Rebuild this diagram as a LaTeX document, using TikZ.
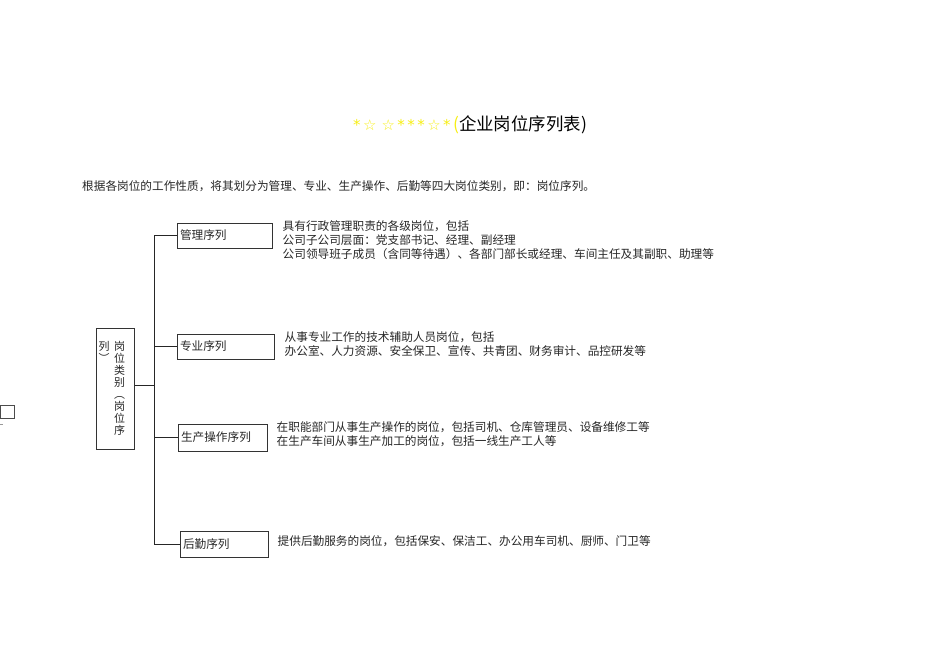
\documentclass[tikz,border=0pt]{standalone}
\usepackage{fontspec}
\setmainfont{Noto Sans CJK SC}
\newfontfamily\dejavu{DejaVu Sans}
\usetikzlibrary{positioning}
\definecolor{staryellow}{RGB}{246,238,20}
\newcommand{\sg}{\hspace{2.5pt}}
\tikzstyle{catbox} = [rectangle, draw=black!80, line width=1bp, minimum height=25bp, inner sep=3bp, align=left, font=\fontsize{11.7}{14}\selectfont, text=black!85]
\tikzstyle{rootbox} = [rectangle, draw=black!80, line width=1bp, minimum width=38bp, minimum height=121bp, inner sep=0pt]
\tikzstyle{desc} = [inner sep=0pt, align=left, font=\fontsize{11.7}{14}\selectfont, text=black!85]
\tikzstyle{branch} = [line width=1bp, draw=black!85]

\begin{document}
\begin{tikzpicture}[x=1bp, y=-1bp, node distance=10bp]
		\useasboundingbox (0,0) rectangle (950,672);

		\node (title) [anchor=west, inner sep=0pt, font=\fontsize{17.5}{20}\selectfont] at (353,125) {\textcolor{staryellow}{{\dejavu\fontsize{15}{17}\selectfont *\sg☆\sg\sg☆\sg*\sg*\sg*\sg☆\sg*\sg}(}企业岗位序列表)};
		\node (intro) [desc, anchor=west] at (82,186) {根据各岗位的工作性质，将其划分为管理、专业、生产操作、后勤等四大岗位类别，即：岗位序列。};

		\node (root) [rootbox, anchor=north west] at (95.5,327.5) {};
		\node (root_col_r) [inner sep=0pt, align=center, anchor=north, font=\fontsize{11}{12}\selectfont, text=black!85] at (119.5,341) {岗\\位\\类\\别\\︵\\岗\\位\\序};
		\node (root_col_l) [inner sep=0pt, align=center, anchor=north, font=\fontsize{11}{12}\selectfont, text=black!85] at (104,341) {列\\︶};

		\node (guanli) [catbox, text width=89bp, anchor=north west] at (176.5,222.5) {管理序列};
		\node (zhuanye) [catbox, text width=91bp, anchor=north west] at (176.5,333.5) {专业序列};
		\node (shengchan) [catbox, text width=83bp, minimum height=27bp, anchor=north west] at (177.5,423.5) {生产操作序列};
		\node (houqin) [catbox, text width=82bp, minimum height=26bp, anchor=north west] at (179.5,530.5) {后勤序列};

		\node (guanli_desc) [desc, right=10bp of guanli, yshift=-4.5bp] {具有行政管理职责的各级岗位，包括\\公司子公司层面：党支部书记、经理、副经理\\公司领导班子成员（含同等待遇）、各部门部长或经理、车间主任及其副职、助理等};
		\node (zhuanye_desc) [desc, right=10bp of zhuanye, yshift=2bp] {从事专业工作的技术辅助人员岗位，包括\\办公室、人力资源、安全保卫、宣传、共青团、财务审计、品控研发等};
		\node (shengchan_desc) [desc, right=9bp of shengchan, yshift=3.5bp] {在职能部门从事生产操作的岗位，包括司机、仓库管理员、设备维修工等\\在生产车间从事生产加工的岗位，包括一线生产工人等};
		\node (houqin_desc) [desc, right=9bp of houqin, yshift=3bp] {提供后勤服务的岗位，包括保安、保洁工、办公用车司机、厨师、门卫等};

		\coordinate (trunk) at (154.5,385.5);
		\draw [branch] (guanli.west) -| (trunk) |- (houqin.west);
		\draw [branch] (zhuanye.west) -- (zhuanye.west -| trunk);
		\draw [branch] (shengchan.west) -- (shengchan.west -| trunk);
		\draw [branch] (root.east |- trunk) -- (trunk);
		%
		\draw [black!70, line width=1bp] (0.5,405.5) rectangle (14.5,418.5);
		\draw [black!40, line width=1bp] (0,424.5) -- (3,424.5);
	\end{tikzpicture}
\end{document}
